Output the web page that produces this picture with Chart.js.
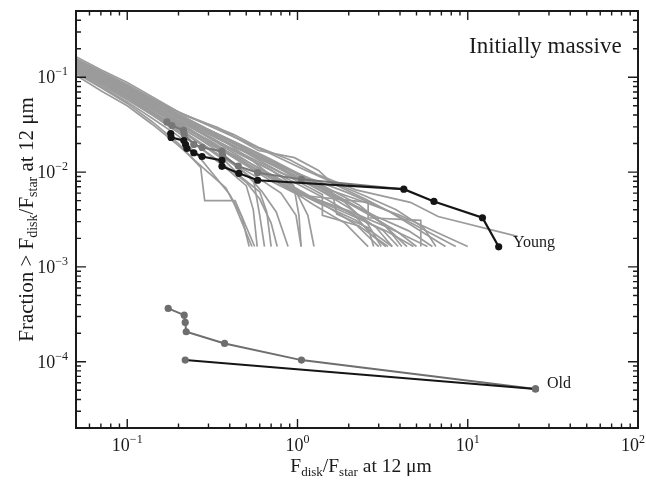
<!DOCTYPE html>
<html lang="en">
<head>
<meta charset="UTF-8">
<title>Initially massive</title>
<script src="https://cdn.jsdelivr.net/npm/chart.js"></script>
<style>
  html, body { margin: 0; padding: 0; background: #fff; }
  #wrap { width: 646px; height: 481px; }
</style>
</head>
<body>
<div id="wrap"><canvas id="chart"></canvas></div>
<script>
// axis ranges and tick labels
const xRange = [0.05, 100];
const yRange = [2e-5, 0.5];
const xMajorTicks = [0.1, 1, 10, 100];
const yMajorTicks = [1e-4, 1e-3, 1e-2, 1e-1];

// young sample (black, marked)
const youngX = [0.18, 0.181, 0.215, 0.22, 0.224, 0.246, 0.275, 0.36, 0.36, 0.452, 0.583, 4.21, 6.33, 12.2, 15.2];
const youngY = [0.0255, 0.0232, 0.0215, 0.0195, 0.0178, 0.016, 0.0146, 0.0133, 0.0115, 0.0097, 0.0082, 0.0066, 0.0049, 0.0033, 0.00163];

// second young sample (dark grey, marked)
const young2X = [0.171, 0.183, 0.214, 0.216, 0.246, 0.275, 0.36, 0.363, 0.449, 0.583, 1.055, 4.2];
const young2Y = [0.0338, 0.031, 0.0275, 0.0249, 0.0196, 0.0182, 0.0166, 0.015, 0.01156, 0.00986, 0.00838, 0.0066];

// old samples
const oldGreyX = [0.174, 0.216, 0.219, 0.222, 0.373, 1.055, 25.0];
const oldGreyY = [3.65e-4, 3.1e-4, 2.6e-4, 2.07e-4, 1.56e-4, 1.04e-4, 5.17e-5];
const oldBlackX = [0.219, 25.0];
const oldBlackY = [1.04e-4, 5.17e-5];

// model realisations (light grey), each one a list of [x, y]
const modelRuns = [
  [[0.05,0.15],[0.07,0.112],[0.1,0.08],[0.14,0.058],[0.2,0.043],[0.3,0.032],[0.42,0.025],[0.6,0.018],[0.9,0.0135],[1.3,0.0095],[2.2,0.0065],[4.6,0.0048],[6.7,0.0034],[19.6,0.0021]],
  [[0.05,0.145],[0.075,0.105],[0.11,0.072],[0.16,0.05],[0.24,0.034],[0.36,0.022],[0.55,0.013],[0.8,0.0075],[1.05,0.0057],[2.6,0.0048],[2.6,0.0033],[5.3,0.0031],[5.3,0.00164]],
  [[0.05,0.165],[0.07,0.12],[0.1,0.088],[0.14,0.0625],[0.22,0.039],[0.34,0.0296],[0.59,0.0169],[0.96,0.0142],[1.33,0.0104],[1.6,0.0076],[2.5,0.0052],[4.2,0.0032],[8.5,0.00164]],
  [[0.05,0.12],[0.07,0.09],[0.1,0.066],[0.15,0.046],[0.22,0.032],[0.32,0.022],[0.5,0.015],[0.8,0.0098],[1.3,0.0072],[2.2,0.0052],[4,0.0035],[7,0.0022],[10,0.00164]],
  [[0.05,0.135],[0.075,0.1],[0.11,0.07],[0.16,0.049],[0.24,0.034],[0.35,0.024],[0.5,0.017],[0.75,0.012],[1.2,0.0085],[2,0.006],[3.5,0.0038],[7.4,0.00164]],
  [[0.05,0.11],[0.07,0.078],[0.1,0.053],[0.14,0.034],[0.2,0.02],[0.27,0.0112],[0.285,0.005],[0.43,0.005],[0.56,0.00164]],
  [[0.05,0.105],[0.07,0.072],[0.1,0.05],[0.14,0.032],[0.2,0.019],[0.28,0.011],[0.38,0.0068],[0.43,0.0044],[0.54,0.00164]],
  [[0.05,0.125],[0.07,0.092],[0.1,0.064],[0.14,0.044],[0.2,0.029],[0.3,0.018],[0.42,0.012],[0.55,0.0085],[0.6,0.0035],[0.64,0.00164]],
  [[0.05,0.14],[0.07,0.1],[0.1,0.073],[0.15,0.05],[0.21,0.035],[0.3,0.024],[0.45,0.016],[0.7,0.0105],[0.95,0.0072],[1.02,0.0035],[1.05,0.00164]],
  [[0.05,0.13],[0.07,0.097],[0.1,0.07],[0.14,0.05],[0.2,0.034],[0.28,0.023],[0.4,0.016],[0.6,0.011],[0.85,0.0078],[1.2,0.0055],[2,0.0038],[3.2,0.0024],[3.9,0.00164]],
  [[0.05,0.15],[0.07,0.108],[0.1,0.077],[0.14,0.055],[0.2,0.039],[0.3,0.027],[0.45,0.019],[0.65,0.013],[0.95,0.009],[1.4,0.0062],[2,0.0042],[2.9,0.0026],[3.6,0.00164]],
  [[0.05,0.118],[0.07,0.088],[0.1,0.062],[0.14,0.043],[0.2,0.03],[0.3,0.02],[0.45,0.0135],[0.7,0.009],[1.0,0.0062],[1.5,0.0043],[2.2,0.0028],[3.0,0.00164]],
  [[0.05,0.142],[0.07,0.105],[0.1,0.075],[0.14,0.053],[0.2,0.037],[0.3,0.025],[0.45,0.0175],[0.7,0.012],[1.1,0.0082],[1.7,0.0055],[2.6,0.0036],[3.8,0.0024],[5,0.00164]],
  [[0.05,0.128],[0.07,0.094],[0.1,0.066],[0.14,0.046],[0.2,0.031],[0.28,0.021],[0.38,0.0145],[0.5,0.0095],[0.62,0.0062],[0.75,0.0038],[0.88,0.00164]],
  [[0.05,0.155],[0.07,0.113],[0.1,0.08],[0.14,0.057],[0.2,0.04],[0.3,0.028],[0.45,0.02],[0.68,0.014],[1.0,0.0098],[1.5,0.0068],[2.3,0.0045],[3.2,0.0028],[4.4,0.00164]],
  [[0.05,0.12],[0.07,0.086],[0.1,0.06],[0.14,0.041],[0.2,0.027],[0.27,0.018],[0.37,0.012],[0.5,0.0078],[0.6,0.0052],[0.7,0.0029],[0.76,0.00164]],
  [[0.05,0.138],[0.07,0.102],[0.1,0.072],[0.14,0.051],[0.2,0.035],[0.29,0.024],[0.42,0.016],[0.6,0.0108],[0.88,0.0074],[1.25,0.0052],[2.0,0.0036],[3.3,0.0024],[4.8,0.00164]],
  [[0.05,0.132],[0.07,0.098],[0.1,0.069],[0.14,0.048],[0.2,0.033],[0.29,0.022],[0.4,0.015],[0.55,0.0105],[0.72,0.0078],[1.0,0.0058],[1.15,0.0035],[1.25,0.00164]],
  [[0.05,0.148],[0.07,0.11],[0.1,0.078],[0.14,0.056],[0.2,0.04],[0.3,0.028],[0.44,0.0195],[0.64,0.0135],[0.92,0.0094],[1.35,0.0065],[1.9,0.0048],[2.6,0.0028],[3.1,0.00164]],
  [[0.05,0.115],[0.07,0.083],[0.1,0.058],[0.14,0.04],[0.2,0.026],[0.28,0.017],[0.38,0.011],[0.5,0.0072],[0.55,0.004],[0.58,0.00164]],
  [[0.05,0.145],[0.07,0.107],[0.1,0.076],[0.14,0.054],[0.2,0.038],[0.3,0.026],[0.45,0.018],[0.7,0.0125],[1.05,0.0086],[1.6,0.006],[2.4,0.004],[3.3,0.0027],[4.1,0.00164]],
  [[0.05,0.126],[0.07,0.093],[0.1,0.066],[0.14,0.046],[0.2,0.032],[0.3,0.021],[0.42,0.0145],[0.62,0.0098],[0.9,0.0066],[1.25,0.0045],[1.9,0.0029],[2.6,0.00164]],
  [[0.05,0.152],[0.07,0.112],[0.1,0.081],[0.14,0.058],[0.2,0.041],[0.29,0.029],[0.42,0.021],[0.62,0.0148],[0.9,0.0105],[1.3,0.0072],[1.9,0.005],[2.9,0.0034],[4.5,0.0024],[6.2,0.00164]],
  [[0.05,0.122],[0.07,0.089],[0.1,0.063],[0.14,0.043],[0.2,0.029],[0.28,0.019],[0.4,0.013],[0.58,0.0088],[0.8,0.006],[0.98,0.0035],[1.05,0.00164]],
  [[0.05,0.136],[0.07,0.1],[0.1,0.071],[0.14,0.05],[0.2,0.035],[0.3,0.0235],[0.44,0.016],[0.66,0.011],[1.0,0.0075],[1.5,0.0051],[2.2,0.0034],[2.7,0.0022],[3.3,0.00164]],
  [[0.05,0.158],[0.07,0.116],[0.1,0.084],[0.14,0.06],[0.2,0.043],[0.3,0.031],[0.46,0.022],[0.7,0.0155],[1.05,0.011],[1.6,0.0078],[2.5,0.0056],[3.8,0.004],[5.5,0.0026],[6.5,0.00164]],
  [[0.05,0.112],[0.07,0.08],[0.1,0.055],[0.14,0.037],[0.2,0.024],[0.26,0.015],[0.32,0.0095],[0.4,0.0058],[0.47,0.0034],[0.52,0.00164]],
  [[0.05,0.13],[0.07,0.096],[0.1,0.068],[0.14,0.048],[0.2,0.033],[0.28,0.0225],[0.4,0.0155],[0.56,0.0108],[0.8,0.0075],[1.2,0.0054],[2.0,0.0039],[3.4,0.0026],[5.8,0.00164]],
  [[0.05,0.142],[0.07,0.104],[0.1,0.074],[0.14,0.053],[0.2,0.037],[0.3,0.026],[0.45,0.0178],[0.65,0.0122],[0.95,0.0084],[1.4,0.0058],[1.4,0.0035],[2.3,0.0027],[3.4,0.00164]],
  [[0.05,0.127],[0.07,0.095],[0.1,0.067],[0.14,0.047],[0.2,0.032],[0.3,0.022],[0.42,0.015],[0.6,0.0102],[0.85,0.007],[1.3,0.0048],[2.2,0.0031],[3.6,0.00164]],
  [[0.05,0.148],[0.07,0.108],[0.1,0.078],[0.15,0.053],[0.22,0.037],[0.32,0.026],[0.48,0.018],[0.72,0.0125],[1.1,0.0088],[1.6,0.0062],[1.7,0.0036],[2.6,0.0026],[2.8,0.00164]],
  [[0.05,0.118],[0.07,0.087],[0.1,0.061],[0.14,0.042],[0.2,0.028],[0.28,0.019],[0.38,0.0128],[0.48,0.0085],[0.6,0.0062],[0.66,0.0038],[0.7,0.00164]]
];

const FONT = '"Liberation Serif", "Times New Roman", serif';
const INK = '#1a1a1a';

function pairs(xs, ys) {
  return xs.map((x, i) => ({ x: x, y: ys[i] }));
}

function minorTicks(range) {
  let out = [];
  let lo = Math.floor(Math.log10(range[0]));
  let hi = Math.ceil(Math.log10(range[1]));
  for (let e = lo; e < hi; e++) {
    for (let m = 2; m <= 9; m++) {
      let v = m * Math.pow(10, e);
      if (v >= range[0] * 0.999 && v <= range[1] * 1.001) out.push(v);
    }
  }
  return out;
}

// draws "10" with a raised exponent
function drawPower(ctx, exp, x, y, align) {
  let base = '10', sup = String(exp).replace('-', '\u2212');
  ctx.font = '18px ' + FONT;
  let wb = ctx.measureText(base).width;
  ctx.font = '12px ' + FONT;
  let ws = ctx.measureText(sup).width;
  let left = align === 'right' ? x - wb - ws : x - (wb + ws) / 2;
  if (left + wb + ws > 645) left = 645 - wb - ws;
  ctx.textAlign = 'left';
  ctx.textBaseline = 'alphabetic';
  ctx.font = '18px ' + FONT;
  ctx.fillText(base, left, y);
  ctx.font = '12px ' + FONT;
  ctx.fillText(sup, left + wb, y - 8);
}

// draws text pieces, some of them as subscripts
function drawRich(ctx, parts, x, y, size, subSize) {
  let widths = parts.map(p => {
    ctx.font = (p.sub ? subSize : size) + 'px ' + FONT;
    return ctx.measureText(p.t).width;
  });
  let total = widths.reduce((a, b) => a + b, 0);
  let cx = x - total / 2;
  ctx.textAlign = 'left';
  ctx.textBaseline = 'alphabetic';
  parts.forEach((p, i) => {
    ctx.font = (p.sub ? subSize : size) + 'px ' + FONT;
    ctx.fillText(p.t, cx, p.sub ? y + 4 : y);
    cx += widths[i];
  });
}

const framePlugin = {
  id: 'frame',
  afterDraw(chart) {
    const ctx = chart.ctx;
    const a = chart.chartArea;
    const xs = chart.scales.x, ys = chart.scales.y;
    ctx.save();
    ctx.strokeStyle = INK;
    ctx.fillStyle = INK;
    ctx.lineWidth = 2;
    ctx.strokeRect(a.left, a.top, a.right - a.left, a.bottom - a.top);

    ctx.lineWidth = 1.4;
    ctx.beginPath();
    xMajorTicks.forEach(v => {
      let px = xs.getPixelForValue(v);
      ctx.moveTo(px, a.bottom); ctx.lineTo(px, a.bottom - 9);
      ctx.moveTo(px, a.top); ctx.lineTo(px, a.top + 9);
    });
    minorTicks(xRange).forEach(v => {
      let px = xs.getPixelForValue(v);
      ctx.moveTo(px, a.bottom); ctx.lineTo(px, a.bottom - 4.5);
      ctx.moveTo(px, a.top); ctx.lineTo(px, a.top + 4.5);
    });
    yMajorTicks.forEach(v => {
      let py = ys.getPixelForValue(v);
      ctx.moveTo(a.left, py); ctx.lineTo(a.left + 10, py);
      ctx.moveTo(a.right, py); ctx.lineTo(a.right - 10, py);
    });
    minorTicks(yRange).forEach(v => {
      let py = ys.getPixelForValue(v);
      ctx.moveTo(a.left, py); ctx.lineTo(a.left + 5, py);
      ctx.moveTo(a.right, py); ctx.lineTo(a.right - 5, py);
    });
    ctx.stroke();

    xMajorTicks.forEach(v => {
      drawPower(ctx, Math.round(Math.log10(v)), xs.getPixelForValue(v), a.bottom + 23, 'center');
    });
    yMajorTicks.forEach(v => {
      drawPower(ctx, Math.round(Math.log10(v)), a.left - 8, ys.getPixelForValue(v) + 6, 'right');
    });

    drawRich(ctx, [
      { t: 'F' }, { t: 'disk', sub: true }, { t: '/F' }, { t: 'star', sub: true }, { t: ' at 12 \u03bcm' }
    ], (a.left + a.right) / 2 + 4, 472, 19.5, 13);

    ctx.save();
    ctx.translate(33, (a.top + a.bottom) / 2);
    ctx.rotate(-Math.PI / 2);
    drawRich(ctx, [
      { t: 'Fraction > F' }, { t: 'disk', sub: true }, { t: '/F' }, { t: 'star', sub: true }, { t: ' at 12 \u03bcm' }
    ], 0, 0, 21, 14);
    ctx.restore();

    ctx.textAlign = 'left';
    ctx.font = '23px ' + FONT;
    ctx.fillText('Initially massive', 469, 53);
    ctx.font = '16px ' + FONT;
    ctx.fillText('Young', 513, 247);
    ctx.fillText('Old', 547, 388);
    ctx.restore();
  }
};

const datasets = [
  {
    data: pairs(youngX, youngY),
    borderColor: '#151515', borderWidth: 2.2,
    pointRadius: 3.6, pointBackgroundColor: '#151515', pointBorderWidth: 0
  },
  {
    data: pairs(oldBlackX, oldBlackY),
    borderColor: '#151515', borderWidth: 2,
    pointRadius: 3.6, pointBackgroundColor: '#6e6e6e', pointBorderWidth: 0
  },
  {
    data: pairs(oldGreyX, oldGreyY),
    borderColor: '#6e6e6e', borderWidth: 2,
    pointRadius: 3.6, pointBackgroundColor: '#6e6e6e', pointBorderWidth: 0
  },
  {
    data: pairs(young2X, young2Y),
    borderColor: '#777777', borderWidth: 2,
    pointRadius: young2X.map((x, i) => i === young2X.length - 1 ? 0 : 3.6),
    pointBackgroundColor: '#777777', pointBorderWidth: 0
  }
];

modelRuns.forEach(run => {
  datasets.push({
    data: run.map(p => ({ x: p[0], y: p[1] })),
    borderColor: '#9b9b9b', borderWidth: 1.7, pointRadius: 0
  });
});

const hideAxis = {
  type: 'logarithmic',
  grid: { display: false, drawTicks: false },
  border: { display: false },
  ticks: { display: false }
};

new Chart(document.getElementById('chart'), {
  type: 'line',
  data: { datasets: datasets },
  options: {
    responsive: true,
    maintainAspectRatio: false,
    animation: false,
    layout: { padding: { left: 76, right: 8, top: 11, bottom: 53 } },
    elements: { line: { tension: 0, fill: false } },
    plugins: { legend: { display: false }, tooltip: { enabled: false } },
    scales: {
      x: Object.assign({}, hideAxis, { position: 'bottom', min: xRange[0], max: xRange[1] }),
      y: Object.assign({}, hideAxis, { position: 'left', min: yRange[0], max: yRange[1] })
    }
  },
  plugins: [framePlugin]
});
</script>
</body>
</html>
